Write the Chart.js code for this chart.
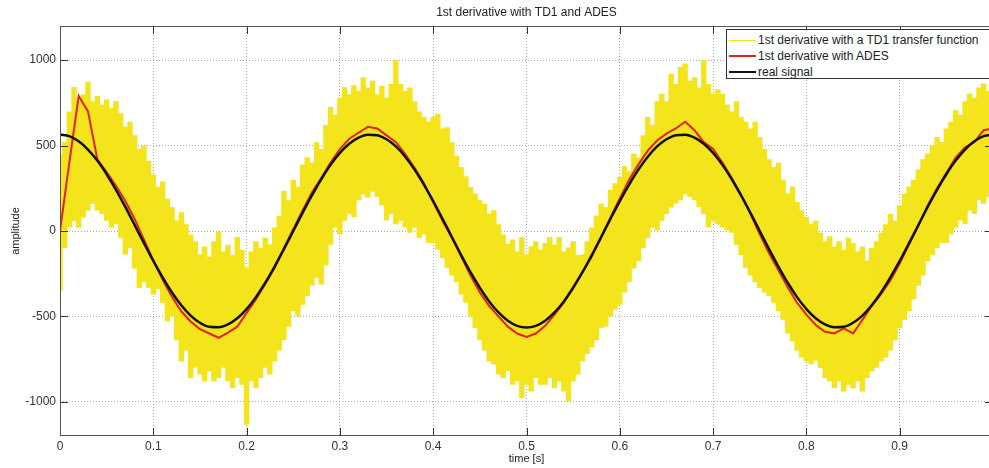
<!DOCTYPE html>
<html>
<head>
<meta charset="utf-8">
<title>1st derivative with TD1 and ADES</title>
<script src="https://cdn.jsdelivr.net/npm/chart.js@4.4.1/dist/chart.umd.min.js"></script>
<style>
  body { margin: 0; overflow: hidden; background: #fff; }
  #wrap { position: relative; width: 989px; height: 468px; overflow: hidden; background: #fff; }
  #chart { display: block; }
  #legend {
    position: absolute; left: 726px; top: 29px; width: 290px; height: 50px;
    border: 1px solid #333; background: #fff; box-sizing: border-box;
    font: 12px "Liberation Sans", Arial, sans-serif; color: #222; padding-top: 2px;
  }
  #legend .row { height: 16px; line-height: 16px; white-space: nowrap; display: flex; align-items: center; }
  #legend .swatch { display: inline-block; width: 27px; margin-left: 2px; margin-right: 2px; }
</style>
</head>
<body>
<div id="wrap">
  <canvas id="chart" width="996" height="468"></canvas>
  <div id="legend"></div>
</div>
<script>
// sampling: TD1 envelope every 0.005 s, ADES and real signal every 0.01 s
const tdHigh = [
  450, 520, 700, 843, 760, 800, 873, 760, 790, 740,
  770, 720, 760, 690, 610, 640, 560, 480, 500, 410,
  330, 258, 290, 190, 140, 62, 110, 40, -20, -60,
  -137, -90, -150, -60, 0, -120, -80, -140, -35, -110,
  -215, -120, -60, -100, -40, -78, 20, 90, 236, 180,
  300, 260, 390, 432, 400, 520, 480, 620, 726, 680,
  780, 843, 800, 853, 820, 900, 840, 880, 800, 850,
  780, 860, 1000, 860, 820, 840, 760, 700, 668, 640,
  668, 687, 600, 608, 520, 440, 375, 320, 258, 220,
  180, 160, 100, 122, 40, -20, -74, -50, -120, -35,
  -137, -90, -60, -110, -70, -35, -80, -35, -120, -96,
  -60, -140, -137, -60, 20, 90, 160, 140, 240, 280,
  316, 380, 350, 453, 430, 560, 668, 620, 760, 804,
  760, 920, 860, 960, 980, 880, 900, 840, 1000, 860,
  804, 830, 804, 740, 700, 760, 668, 640, 600, 640,
  550, 480, 420, 375, 400, 300, 219, 260, 170, 120,
  82, 40, 60, -10, -60, -30, -90, -60, -110, -40,
  -70, -120, -90, -172, -100, -60, -10, 40, 100, 60,
  150, 219, 260, 300, 360, 420, 453, 500, 550, 520,
  600, 640, 707, 680, 760, 804, 780, 840, 863, 820
];
const tdLow = [
  -350, -100, 20, 60, 20, 80, 120, 160, 120, 100,
  60, 20, 40, -40, -137, -100, -220, -333, -300, -333,
  -372, -340, -420, -529, -500, -640, -764, -700, -861, -800,
  -840, -880, -820, -880, -860, -800, -880, -919, -860, -900,
  -1134, -880, -919, -860, -800, -840, -764, -700, -640, -560,
  -470, -500, -431, -380, -320, -274, -313, -200, -80, 20,
  -20, 60, 100, 80, 180, 215, 196, 230, 200, 150,
  62, 100, 40, 60, 20, -10, 20, -40, -20, -70,
  -70, -110, -160, -215, -260, -300, -372, -420, -500, -568,
  -640, -700, -764, -780, -840, -861, -820, -900, -880, -978,
  -900, -940, -860, -900, -900, -860, -920, -880, -940, -997,
  -880, -840, -764, -720, -680, -640, -568, -560, -500, -460,
  -431, -360, -300, -220, -176, -100, -40, 20, 0, 60,
  100, 137, 160, 180, 215, 200, 180, 140, 100, 20,
  60, 40, 20, 0, -10, -80, -140, -215, -260, -300,
  -333, -360, -380, -420, -470, -520, -600, -646, -700, -740,
  -764, -780, -760, -802, -860, -880, -919, -880, -939, -900,
  -920, -880, -940, -861, -820, -800, -764, -740, -700, -640,
  -568, -520, -470, -400, -320, -260, -176, -140, -100, -70,
  -70, -20, 20, 62, 40, 120, 100, 180, 160, 200
];
const adesValues = [
  0, 400, 790, 700, 420, 345, 265, 175, 70, -50,
  -170, -285, -385, -470, -530, -575, -600, -625, -595, -560,
  -480, -400, -310, -215, -100, 10, 120, 225, 310, 400,
  480, 540, 575, 610, 600, 560, 520, 450, 370, 280,
  170, 60, -40, -150, -260, -360, -440, -500, -560, -600,
  -620, -600, -555, -490, -420, -330, -240, -150, -40, 80,
  190, 300, 390, 470, 530, 570, 600, 640, 590, 520,
  480, 400, 310, 210, 100, -20, -130, -230, -330, -420,
  -490, -550, -590, -600, -570, -600, -520, -440, -370, -290,
  -190, -80, 30, 150, 250, 340, 430, 490, 520, 590,
  600
];
const realSignal = [
  565, 555, 525, 477, 412, 332, 241, 141, 35, -71,
  -175, -272, -360, -435, -495, -537, -561, -564, -547, -511,
  -457, -387, -303, -208, -106, 0, 106, 208, 303, 387,
  457, 511, 547, 564, 561, 537, 495, 435, 360, 272,
  175, 71, -35, -141, -241, -332, -412, -477, -525, -555,
  -565, -555, -525, -477, -412, -332, -241, -141, -35, 71,
  175, 272, 360, 435, 495, 537, 561, 564, 547, 511,
  457, 387, 303, 208, 106, 0, -106, -208, -303, -387,
  -457, -511, -547, -564, -561, -537, -495, -435, -360, -272,
  -175, -71, 35, 141, 241, 332, 412, 477, 525, 555,
  565
];
const seriesLabels = ['1st derivative with a TD1 transfer function', '1st derivative with ADES', 'real signal'];
const seriesColors = ['#f3e41c', '#e0241c', '#111111'];
const xTickValues = [0, 0.1, 0.2, 0.3, 0.4, 0.5, 0.6, 0.7, 0.8, 0.9];
const yTickValues = [-1000, -500, 0, 500, 1000];

const tdTime = tdHigh.map((_, i) => i * 0.005);
const slowTime = realSignal.map((_, i) => i * 0.01);

const FONT = '"Liberation Sans", Arial, Helvetica, sans-serif';

// MATLAB style box with inward ticks on all four sides
const matlabBox = {
  id: 'matlabBox',
  afterDatasetsDraw(chart) {
    const { ctx, chartArea: a, scales: { x, y } } = chart;
    const len = 8;
    ctx.save();
    ctx.strokeStyle = '#333';
    ctx.lineWidth = 1;
    ctx.beginPath();
    x.ticks.forEach(t => {
      const px = Math.round(x.getPixelForValue(t.value)) + 0.5;
      ctx.moveTo(px, a.bottom); ctx.lineTo(px, a.bottom - len);
      ctx.moveTo(px, a.top); ctx.lineTo(px, a.top + len);
    });
    y.ticks.forEach(t => {
      const py = Math.round(y.getPixelForValue(t.value)) + 0.5;
      ctx.moveTo(a.left, py); ctx.lineTo(a.left + len, py);
      ctx.moveTo(a.right, py); ctx.lineTo(a.right - len, py);
    });
    ctx.stroke();
    ctx.strokeStyle = '#555';
    ctx.strokeRect(Math.round(a.left) + 0.5, Math.round(a.top) + 0.5,
      Math.round(a.width) - 1, Math.round(a.height) - 1);
    ctx.restore();
  }
};

const ctx = document.getElementById('chart').getContext('2d');
new Chart(ctx, {
  type: 'line',
  data: {
    datasets: [
      {
        type: 'bar',
        label: seriesLabels[0],
        data: tdTime.map((t, i) => ({ x: t, y: [tdLow[i], tdHigh[i]] })),
        backgroundColor: seriesColors[0],
        borderWidth: 0,
        barPercentage: 1.15,
        categoryPercentage: 1,
        order: 3
      },
      {
        label: seriesLabels[1],
        data: slowTime.map((t, i) => ({ x: t, y: adesValues[i] })),
        borderColor: seriesColors[1],
        borderWidth: 2,
        pointRadius: 0,
        tension: 0,
        order: 2
      },
      {
        label: seriesLabels[2],
        data: slowTime.map((t, i) => ({ x: t, y: realSignal[i] })),
        borderColor: seriesColors[2],
        borderWidth: 2.5,
        pointRadius: 0,
        cubicInterpolationMode: 'monotone',
        order: 1
      }
    ]
  },
  options: {
    responsive: false,
    animation: false,
    devicePixelRatio: 1,
    layout: { padding: { left: 0, right: 3, top: 0, bottom: 0 } },
    plugins: {
      legend: { display: false },
      tooltip: { enabled: false },
      title: {
        display: true,
        fullSize: false,
        text: '1st derivative with TD1 and ADES',
        color: '#222',
        font: { family: FONT, size: 12, weight: 'normal' },
        padding: { top: 5, bottom: 6.6 }
      }
    },
    scales: {
      x: {
        type: 'linear',
        min: 0,
        max: 1,
        offset: false,
        afterBuildTicks: s => { s.ticks = xTickValues.map(v => ({ value: v })); },
        afterFit: s => { s.height = 32; },
        ticks: {
          color: '#333',
          padding: 3,
          font: { family: FONT, size: 12 },
          callback: v => String(v)
        },
        grid: { color: '#a8a8a8', drawTicks: false, offset: false },
        border: { display: false, dash: [1, 2] },
        title: {
          display: true,
          text: 'time [s]',
          color: '#222',
          font: { family: FONT, size: 11 },
          padding: { top: 0, bottom: 2 }
        }
      },
      y: {
        min: -1200,
        max: 1200,
        afterBuildTicks: s => { s.ticks = yTickValues.map(v => ({ value: v })); },
        afterFit: s => { s.width = 60; },
        ticks: {
          color: '#333',
          padding: 4,
          font: { family: FONT, size: 12 },
          callback: v => String(v)
        },
        grid: { color: '#a8a8a8', drawTicks: false },
        border: { display: false, dash: [1, 2] },
        title: {
          display: true,
          text: 'amplitude',
          color: '#222',
          font: { family: FONT, size: 11 },
          padding: { top: 9, bottom: 0 }
        }
      }
    }
  },
  plugins: [matlabBox]
});

// legend inside the axes, top right, like MATLAB
const legend = document.getElementById('legend');
const widths = [1.5, 2, 2.5];
seriesLabels.forEach((label, i) => {
  const row = document.createElement('div');
  row.className = 'row';
  const sw = document.createElement('span');
  sw.className = 'swatch';
  sw.style.borderTop = widths[i] + 'px solid ' + seriesColors[i];
  const txt = document.createElement('span');
  txt.textContent = label;
  row.appendChild(sw);
  row.appendChild(txt);
  legend.appendChild(row);
});
</script>
</body>
</html>
